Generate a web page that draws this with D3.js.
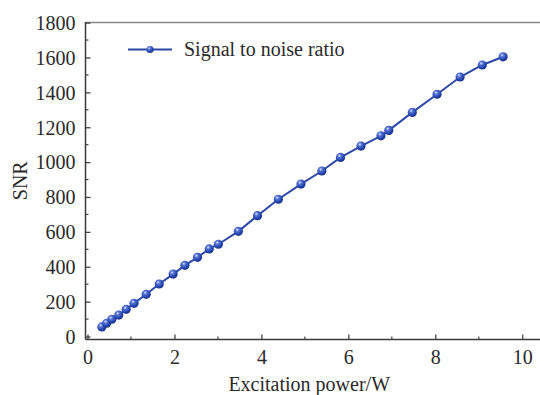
<!DOCTYPE html>
<html><head><meta charset="utf-8">
<script src="https://cdn.jsdelivr.net/npm/d3@7"></script>
<style>
html,body{margin:0;padding:0;background:#fff;}
</style>
</head><body>
<svg id="c" width="540" height="395"></svg>
<script>
const power = [0.33,0.44,0.56,0.72,0.89,1.07,1.35,1.65,1.97,2.24,2.53,2.80,3.01,3.47,3.91,4.39,4.91,5.39,5.82,6.29,6.75,6.93,7.47,8.04,8.57,9.08,9.56];
const snr = [55,76,99,123,156,190,242,301,358,408,454,502,529,603,693,787,874,949,1027,1092,1151,1182,1285,1389,1488,1557,1604];
const xTicks = [0,2,4,6,8,10];
const yTicks = [0,200,400,600,800,1000,1200,1400,1600,1800];
const seriesName = "Signal to noise ratio";
const xTitle = "Excitation power/W";
const yTitle = "SNR";

const FONT = "'Liberation Serif', 'Times New Roman', 'DejaVu Serif', serif";
const svg = d3.select("#c");
const x = d3.scaleLinear().domain([-0.046, 10.5]).range([85.5, 544]);
const y = d3.scaleLinear().domain([-17.2, 1800]).range([339.5, 22.6]);
const pL = 85.5, pR = 540, pT = 22, pB = 339.5;

const defs = svg.append("defs");
const g = defs.append("radialGradient").attr("id","ball").attr("cx","38%").attr("cy","32%").attr("r","70%");
g.append("stop").attr("offset","0%").attr("stop-color","#e8eeff");
g.append("stop").attr("offset","25%").attr("stop-color","#5b78d6");
g.append("stop").attr("offset","70%").attr("stop-color","#2443ad");
g.append("stop").attr("offset","100%").attr("stop-color","#1a3288");

// frame
svg.append("line").attr("x1",pL).attr("x2",pR).attr("y1",pT+0.5).attr("y2",pT+0.5).attr("stroke","#8a8a8a").attr("stroke-width",1.3);

// y axis
const ya = svg.append("g").attr("transform",`translate(${pL},0)`)
  .call(d3.axisLeft(y).tickValues(yTicks).tickFormat(d3.format("d")).tickSizeInner(-5).tickSizeOuter(0).tickPadding(10));
ya.attr("font-family", null).attr("font-size", null);
ya.select(".domain").remove();
ya.selectAll("text").style("font-family",FONT).style("font-size","20px").style("fill","#2a2a2a").attr("dy","0.34em");
ya.selectAll("line").attr("stroke","#444").attr("stroke-width",1.3);
const yMinor = d3.range(100,1800,200);
svg.append("g").selectAll("line").data(yMinor).join("line")
  .attr("x1",pL).attr("x2",pL+3).attr("y1",d=>y(d)).attr("y2",d=>y(d)).attr("stroke","#444").attr("stroke-width",1.2);

// x axis
const xa = svg.append("g").attr("transform",`translate(0,${pB})`)
  .call(d3.axisBottom(x).tickValues(xTicks).tickFormat(d3.format("d")).tickSizeInner(-5).tickSizeOuter(0).tickPadding(10));
xa.attr("font-family", null).attr("font-size", null);
xa.select(".domain").remove();
xa.selectAll("text").style("font-family",FONT).style("font-size","20px").style("fill","#2a2a2a");
xa.selectAll("line").attr("stroke","#444").attr("stroke-width",1.3);
const xMinor = d3.range(1,11,2);
svg.append("g").selectAll("line").data(xMinor).join("line")
  .attr("x1",d=>x(d)).attr("x2",d=>x(d)).attr("y1",pB).attr("y2",pB-3).attr("stroke","#444").attr("stroke-width",1.2);

svg.append("line").attr("x1",pL).attr("x2",pL).attr("y1",pT).attr("y2",pB).attr("stroke","#3a3a3a").attr("stroke-width",1.5);
svg.append("line").attr("x1",pL).attr("x2",pR).attr("y1",pB).attr("y2",pB).attr("stroke","#3a3a3a").attr("stroke-width",1.5);

// series
const pts = power.map((p,i)=>[p,snr[i]]);
svg.append("path").datum(pts)
  .attr("fill","none").attr("stroke","#2d49a8").attr("stroke-width",2)
  .attr("d", d3.line().x(d=>x(d[0])).y(d=>y(d[1])));
svg.append("g").selectAll("circle").data(pts).join("circle")
  .attr("cx",d=>x(d[0])).attr("cy",d=>y(d[1])).attr("r",4.6)
  .attr("fill","url(#ball)");

// legend
const lg = svg.append("g");
lg.append("line").attr("x1",128).attr("x2",172).attr("y1",49.5).attr("y2",49.5).attr("stroke","#2d49a8").attr("stroke-width",2);
lg.append("circle").attr("cx",150).attr("cy",49.5).attr("r",3.6).attr("fill","url(#ball)");
lg.append("text").attr("x",184).attr("y",55.5).style("font-family",FONT).style("font-size","20px").style("fill","#2a2a2a").text(seriesName);

// titles
svg.append("text").attr("x",x(5.1)).attr("y",391).attr("text-anchor","middle").style("font-family",FONT).style("font-size","20px").style("fill","#2a2a2a").text(xTitle);
svg.append("text").attr("transform",`translate(27,${(pT+pB)/2}) rotate(-90)`).attr("text-anchor","middle").style("font-family",FONT).style("font-size","20px").style("fill","#2a2a2a").text(yTitle);
</script>
</body></html>
